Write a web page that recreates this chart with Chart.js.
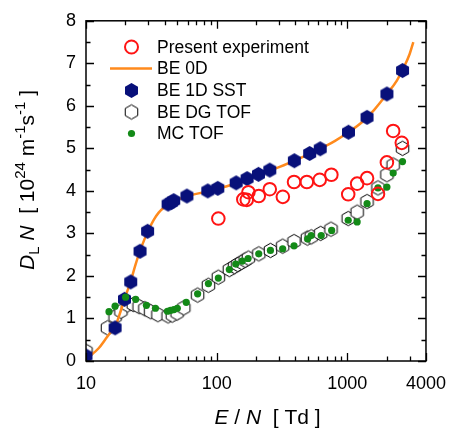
<!DOCTYPE html>
<html><head><meta charset="utf-8">
<script src="https://cdn.jsdelivr.net/npm/chart.js@4"></script>
<style>html,body{margin:0;padding:0;background:#fff;}#wrap{width:458px;height:433px;}</style>
</head><body><div id="wrap"><canvas id="c" width="458" height="433"></canvas></div>
<script>
// ---- data ----
const xTickValues = [10,20,30,40,50,60,70,80,90,100,200,300,400,500,600,700,800,900,1000,2000,3000,4000];
const xTickLabels = ['10','100','1000','4000'];
const yTickValues = [0,0.5,1,1.5,2,2.5,3,3.5,4,4.5,5,5.5,6,6.5,7,7.5,8];
const yTickLabels = ['0','1','2','3','4','5','6','7','8'];

const seriesNames = ['Present experiment','BE 0D','BE 1D SST','BE DG TOF','MC TOF'];

const expX = [103,160,170,175,210,255,321,391,490,615,755,1016,1189,1416,1717,2009,2244,2612];
const expY = [3.35,3.80,3.79,3.97,3.88,4.04,3.86,4.21,4.21,4.26,4.38,3.92,4.17,4.30,3.93,4.67,5.41,5.13];

const be0dX = [10,11,12.5,14,15.5,16.7,18,19.7,22,24,26,28,30,33,36,40,45,50,60,80,100,150,200,300,400,600,800,1000,1300,1600,2000,2400,2700,3000,3200];
const be0dY = [0.08,0.15,0.3,0.5,0.68,0.8,1.08,1.45,1.88,2.28,2.6,2.86,3.07,3.32,3.49,3.62,3.72,3.79,3.88,3.97,4.04,4.21,4.35,4.56,4.72,4.97,5.17,5.36,5.62,5.9,6.27,6.6,6.9,7.22,7.5];

const be1dX = [10,16.7,19.7,22.0,25.9,29.6,42.5,45.0,46.9,59.2,85.5,102,141,171,209,255,393,515,620,1020,1416,2009,2645];
const be1dY = [0.12,0.78,1.45,1.86,2.58,3.05,3.69,3.73,3.77,3.88,4.0,4.06,4.19,4.29,4.39,4.49,4.71,4.88,4.99,5.38,5.73,6.28,6.83];

const dgX = [10,14.6,16.7,18.5,20.8,23.0,25.5,28.2,31.2,35.5,42.5,45.8,49.8,56,71.5,86.5,103,125,137,145,155,165,175,210,258,320,391,495,530,625,750,1016,1189,1416,1717,2009,2244,2645];
const dgY = [0.23,0.78,1.04,1.17,1.32,1.33,1.28,1.23,1.16,1.09,1.06,1.08,1.13,1.25,1.55,1.78,1.97,2.15,2.22,2.27,2.32,2.37,2.42,2.52,2.6,2.7,2.81,2.89,2.92,3.0,3.1,3.35,3.5,3.75,4.07,4.38,4.61,5.0];

const mcX = [15.0,16.7,20.1,24.0,29.0,34.0,42.0,44.4,47.1,50.0,58.5,71.5,86.5,103,125,140,157,174,210,258,320,391,497,529,631,759,1016,1189,1416,1717,2009,2244,2645];
const mcY = [1.16,1.29,1.50,1.45,1.31,1.24,1.17,1.19,1.21,1.24,1.38,1.58,1.82,1.95,2.15,2.28,2.35,2.41,2.52,2.60,2.64,2.71,2.87,2.95,2.95,3.07,3.31,3.27,3.70,4.07,4.09,4.42,4.69];

// ---- styles ----
const RED = '#ff1414', ORANGE = '#ff8a1c', NAVY = '#08107a', GREEN = '#138a17';
const FONT = '"Liberation Sans", Arial, Helvetica, sans-serif';

function hexPath(ctx, cx, cy, r) {
  ctx.beginPath();
  for (let i = 0; i < 6; i++) {
    const a = Math.PI / 2 + i * Math.PI / 3;
    const px = cx + r * Math.cos(a), py = cy - r * Math.sin(a);
    if (i === 0) ctx.moveTo(px, py); else ctx.lineTo(px, py);
  }
  ctx.closePath();
}
function hexImage(r, fill, stroke, lw) {
  const s = Math.ceil(2 * r + 4);
  const cv = document.createElement('canvas');
  cv.width = s; cv.height = s;
  const g = cv.getContext('2d');
  hexPath(g, s / 2, s / 2, r);
  g.fillStyle = fill; g.fill();
  if (stroke) { g.strokeStyle = stroke; g.lineWidth = lw; g.stroke(); }
  return cv;
}
const navyHex = hexImage(7.5, NAVY, null, 0);
const openHex = hexImage(7.2, '#ffffff', '#000000', 1);

const pts = (xs, ys) => xs.map((x, i) => ({ x: x, y: ys[i] }));

const framePlugin = {
  id: 'frame',
  afterDatasetsDraw(chart) {
    const { ctx, chartArea: a, scales } = chart;
    const xs = scales.x, ys = scales.y;
    ctx.save();
    ctx.strokeStyle = '#000'; ctx.lineWidth = 1.5;
    ctx.strokeRect(a.left, a.top, a.right - a.left, a.bottom - a.top);
    ctx.lineWidth = 1.3;
    ctx.beginPath();
    xTickValues.forEach(v => {
      const px = Math.round(xs.getPixelForValue(v)) + 0.5;
      const len = xTickLabels.includes(String(v)) ? 8 : 4.5;
      ctx.moveTo(px, a.bottom); ctx.lineTo(px, a.bottom - len);
      ctx.moveTo(px, a.top); ctx.lineTo(px, a.top + len);
    });
    yTickValues.forEach(v => {
      const py = Math.round(ys.getPixelForValue(v)) + 0.5;
      const len = Number.isInteger(v) ? 8 : 4.5;
      ctx.moveTo(a.left, py); ctx.lineTo(a.left + len, py);
      ctx.moveTo(a.right, py); ctx.lineTo(a.right - len, py);
    });
    ctx.stroke();

    // legend
    const lx = 131.5, tx = 157, rows = [47, 68.5, 90.5, 112, 133.5];
    ctx.font = '17.5px ' + FONT; ctx.fillStyle = '#000'; ctx.textBaseline = 'middle'; ctx.textAlign = 'left';
    seriesNames.forEach((n, i) => ctx.fillText(n, tx, rows[i] + 1));
    ctx.strokeStyle = RED; ctx.lineWidth = 2;
    ctx.beginPath(); ctx.arc(lx, rows[0], 6.5, 0, Math.PI * 2); ctx.stroke();
    ctx.strokeStyle = ORANGE; ctx.lineWidth = 2.5;
    ctx.beginPath(); ctx.moveTo(110, rows[1]); ctx.lineTo(152, rows[1]); ctx.stroke();
    ctx.drawImage(navyHex, lx - navyHex.width / 2, rows[2] - navyHex.height / 2);
    ctx.drawImage(openHex, lx - openHex.width / 2, rows[3] - openHex.height / 2);
    ctx.fillStyle = GREEN; ctx.beginPath(); ctx.arc(lx, rows[4], 3.6, 0, Math.PI * 2); ctx.fill();

    // x title
    ctx.fillStyle = '#000'; ctx.textBaseline = 'alphabetic';
    const xparts = [['italic 21px ' + FONT, 'E'], ['21px ' + FONT, ' / '], ['italic 21px ' + FONT, 'N'], ['21px ' + FONT, '  [ Td ]']];
    let tw = 0;
    xparts.forEach(p => { ctx.font = p[0]; tw += ctx.measureText(p[1]).width; });
    let cx = (a.left + a.right) / 2 + 11.5 - tw / 2;
    xparts.forEach(p => { ctx.font = p[0]; ctx.fillText(p[1], cx, 424); cx += ctx.measureText(p[1]).width; });

    // y title (rotated)
    const yparts = [
      ['italic 21px ' + FONT, 'D', 0], ['15px ' + FONT, 'L', 5], ['italic 21px ' + FONT, ' N', 0],
      ['21px ' + FONT, '  [ 10', 0], ['15px ' + FONT, '24', -9], ['21px ' + FONT, ' m', 0],
      ['15px ' + FONT, '-1', -9], ['21px ' + FONT, 's', 0], ['15px ' + FONT, '-1', -9], ['21px ' + FONT, ' ]', 0]
    ];
    tw = 0;
    yparts.forEach(p => { ctx.font = p[0]; tw += ctx.measureText(p[1]).width; });
    ctx.translate(34, 180); ctx.rotate(-Math.PI / 2);
    cx = -tw / 2;
    yparts.forEach(p => { ctx.font = p[0]; ctx.fillText(p[1], cx, p[2]); cx += ctx.measureText(p[1]).width; });
    ctx.restore();
  }
};

new Chart(document.getElementById('c'), {
  type: 'scatter',
  data: {
    datasets: [
      { label: seriesNames[0], data: pts(expX, expY), order: 0, pointStyle: 'circle', pointRadius: 6.3, pointHoverRadius: 6.3,
        borderColor: RED, backgroundColor: 'rgba(0,0,0,0)', borderWidth: 2, pointBorderWidth: 2 },
      { label: seriesNames[4], data: pts(mcX, mcY), order: 1, pointStyle: 'circle', pointRadius: 3.6,
        backgroundColor: GREEN, borderColor: GREEN, borderWidth: 0 },
      { label: seriesNames[2], data: pts(be1dX, be1dY), order: 2, pointStyle: navyHex, pointRadius: 7 },
      { label: seriesNames[1], type: 'line', data: pts(be0dX, be0dY), order: 3, showLine: true, pointRadius: 0,
        borderColor: ORANGE, borderWidth: 2.5, cubicInterpolationMode: 'monotone', fill: false },
      { label: seriesNames[3], data: pts(dgX, dgY), order: 4, pointStyle: openHex, pointRadius: 7 }
    ]
  },
  options: {
    responsive: false, animation: false, devicePixelRatio: 1,
    layout: { padding: { top: 19, right: 30, left: 0, bottom: 0 } },
    plugins: { legend: { display: false }, tooltip: { enabled: false } },
    scales: {
      x: {
        type: 'logarithmic', min: 10, max: 4000,
        grid: { display: false, drawTicks: false }, border: { display: false },
        afterBuildTicks: s => { s.ticks = xTickValues.map(v => ({ value: v })); },
        afterFit: s => { s.height = 72; },
        ticks: { autoSkip: false, maxRotation: 0, padding: 12, color: '#000', font: { family: FONT, size: 18 },
          callback: v => xTickLabels.includes(String(v)) ? String(v) : '' }
      },
      y: {
        type: 'linear', min: 0, max: 8,
        grid: { display: false, drawTicks: false }, border: { display: false },
        afterBuildTicks: s => { s.ticks = yTickValues.map(v => ({ value: v })); },
        afterFit: s => { s.width = 86; },
        ticks: { autoSkip: false, padding: 10, color: '#000', font: { family: FONT, size: 18 },
          callback: v => yTickLabels.includes(String(v)) ? String(v) : '' }
      }
    }
  },
  plugins: [framePlugin]
});
</script></body></html>
